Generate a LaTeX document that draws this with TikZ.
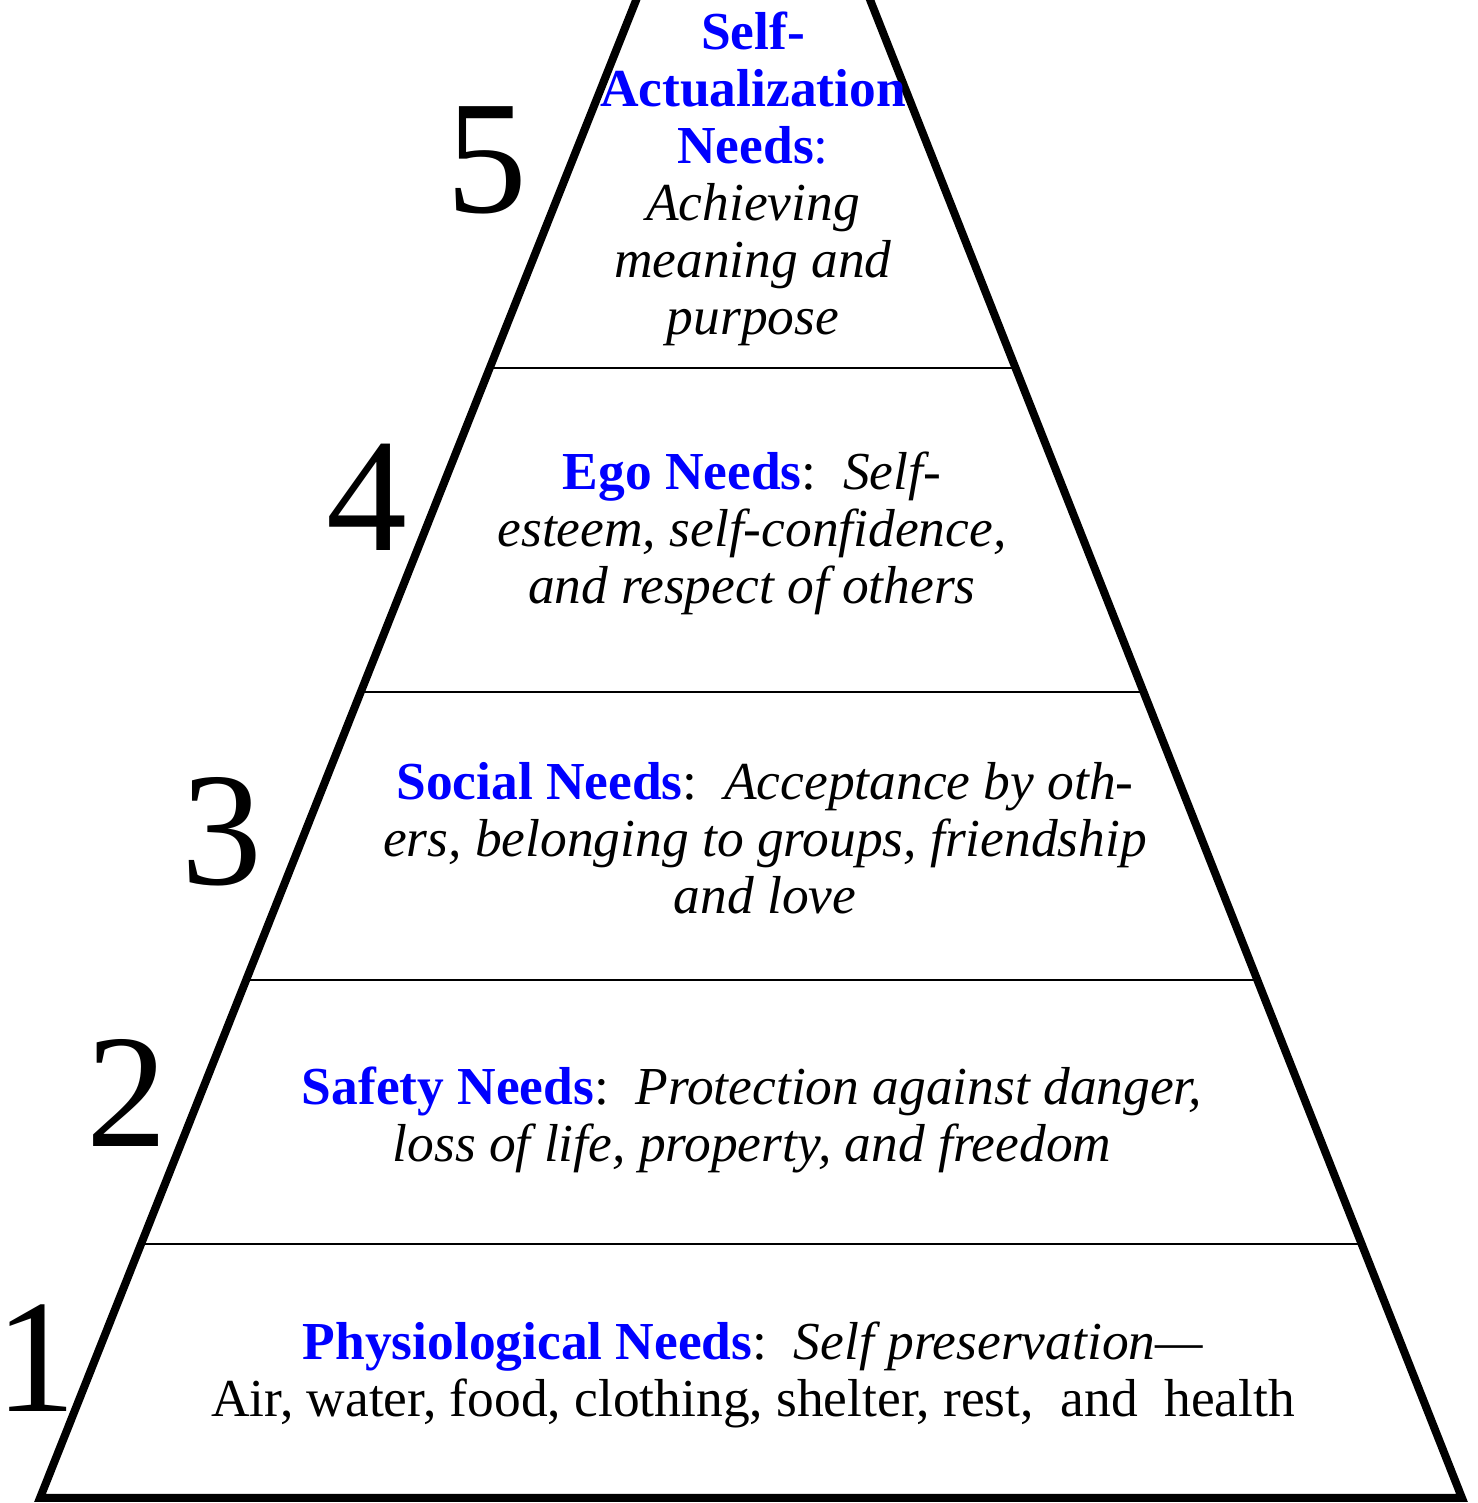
\documentclass[tikz,border=0pt]{standalone}
\usepackage{fontspec}
\setmainfont{Liberation Serif}
\usepackage{xcolor}
\usetikzlibrary{calc}
\definecolor{needblue}{RGB}{0,0,255}
\newcommand{\needs}[1]{\textcolor{needblue}{\textbf{#1}}}
\tikzset{
  every picture/.style={line join=miter},
  outline/.style={draw=black, line width=0.08cm},
  divider/.style={draw=black, line width=0.02cm},
  level/.style={align=center, inner sep=0pt, font=\fontsize{15.2}{16.2}\selectfont},
  number/.style={inner sep=0pt, font=\fontsize{46}{46}\selectfont},
}

\begin{document}
\begin{tikzpicture}
  \useasboundingbox (0,0) rectangle (14.78,15.03);
  \coordinate (bl) at (0.40,0.05);
  \coordinate (br) at (14.62,0.05);
  \coordinate (ap) at (7.536,17.98);
  \begin{scope}
    \clip (0,0) rectangle (14.78,15.03);
    \draw[outline] (bl) -- (br) -- (ap) -- cycle;
    \foreach \f in {0.1417, 0.2889, 0.4495, 0.6302}
      \draw[divider] ($(bl)!\f!(ap)$) -- ($(br)!\f!(ap)$);
  \end{scope}
  % levels, bottom to top
  \node[level] (phys) at (7.53,1.28) {\needs{Physiological Needs}:\ \ \textit{Self preservation---}\\
    Air, water, food, clothing, shelter, rest,\ \ and\ \ health};
  \node[level] (safety) at (7.52,3.83) {\needs{Safety Needs}:\ \ \textit{Protection against danger,}\\
    \textit{loss of life, property, and freedom}};
  \node[level] (social) at (7.65,6.65) {\needs{Social Needs}:\ \ \textit{Acceptance by oth-}\\
    \textit{ers, belonging to groups, friendship}\\ \textit{and love}};
  \node[level] (ego) at (7.52,9.70) {\needs{Ego Needs}:\ \ \textit{Self-}\\
    \textit{esteem, self-confidence,}\\ \textit{and respect of others}};
  \node[level] (self) at (7.53,13.24) {\needs{Self-}\\ \needs{Actualization}\\ \needs{Needs}\textcolor{needblue}{:}\\
    \textit{Achieving}\\ \textit{meaning and}\\ \textit{purpose}};
  % numbers
  \node[number] (n1) at (0.36,1.45) {1};
  \node[number] (n2) at (1.27,4.10) {2};
  \node[number] (n3) at (2.22,6.71) {3};
  \node[number] (n4) at (3.67,10.06) {4};
  \node[number] (n5) at (4.87,13.43) {5};
\end{tikzpicture}
\end{document}
